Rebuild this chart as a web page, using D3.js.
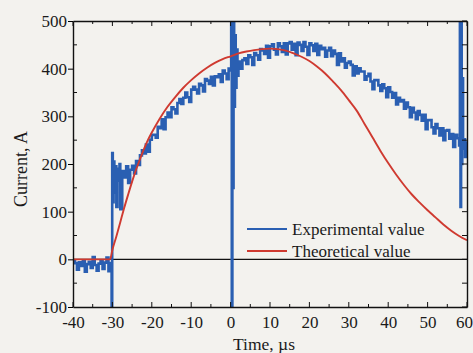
<!DOCTYPE html>
<html>
<head>
<meta charset="utf-8">
<script src="https://cdn.jsdelivr.net/npm/d3@7"></script>
<style>
  body { margin: 0; background: #f3f2ee; }
  svg { display: block; }
  text { font-family: "Liberation Serif", "Times New Roman", serif; fill: #1a1a1a; }
</style>
</head>
<body>
<div id="chart"></div>
<script>
// theoretical current curve
const theoryTime = [-40, -30.6, -30, -29, -28, -27, -26, -25, -24, -23, -22, -21, -20, -18, -16, -14, -12, -10, -8, -6, -4, -2,
  0, 2, 4, 6, 8, 10, 12, 14, 16, 18, 20, 22, 24, 26, 28, 30, 32, 34, 36, 38, 40, 42, 44, 46, 48, 50, 52, 54, 56, 58, 60];
const theoryCurrent = [0, 0, 20, 48, 78, 108, 136, 163, 188, 210, 231, 250, 266, 295, 320, 341, 360, 376, 390, 402, 412, 420,
  426, 432, 436, 439, 441, 442, 441, 438, 432, 425, 416, 404, 390, 373, 355, 334, 312, 284, 256, 228, 202, 178, 156, 136, 119, 103, 88, 73, 60, 49, 40];

// measured current (noisy scope trace)
const expTime = [
  -40, -39.5, -39, -38.5, -38, -37.5, -37, -36.5, -36, -35.5, -35, -34.5, -34, -33.5, -33, -32.5, -32, -31.5, -31, -30.5,
  -30.2, -30.05, -29.9, -29.7, -29.5, -29.2, -29, -28.7, -28.5, -28.2, -28, -27.5, -27, -26.5, -26, -25.5, -25, -24.5, -24, -23.5,
  -23, -22.5, -22, -21.5, -21, -20.5, -20, -19.5, -19, -18.5, -18, -17.5, -17, -16.5, -16, -15.5, -15, -14.5, -14, -13.5,
  -13, -12.5, -12, -11.5, -11, -10.5, -10, -9.5, -9, -8.5, -8, -7.5, -7, -6.5, -6, -5.5, -5, -4.5, -4, -3.5,
  -3, -2.5, -2, -1.5, -1, -0.5, 0, 0.15, 0.3, 0.45, 0.6, 0.75, 0.9, 1.1, 1.3, 1.5, 1.75, 2, 2.5, 3,
  3.5, 4, 4.5, 5, 5.5, 6, 6.5, 7, 7.5, 8, 8.5, 9, 9.5, 10, 10.5, 11, 11.5, 12, 12.5, 13,
  13.5, 14, 14.5, 15, 15.5, 16, 16.5, 17, 17.5, 18, 18.5, 19, 19.5, 20, 20.5, 21, 21.5, 22, 22.5, 23,
  23.5, 24, 24.5, 25, 25.5, 26, 26.5, 27, 27.5, 28, 28.5, 29, 29.5, 30, 30.5, 31, 31.5, 32, 32.5, 33,
  33.5, 34, 34.5, 35, 35.5, 36, 36.5, 37, 37.5, 38, 38.5, 39, 39.5, 40, 40.5, 41, 41.5, 42, 42.5, 43,
  43.5, 44, 44.5, 45, 45.5, 46, 46.5, 47, 47.5, 48, 48.5, 49, 49.5, 50, 50.5, 51, 51.5, 52, 52.5, 53,
  53.5, 54, 54.5, 55, 55.5, 56, 56.5, 57, 57.5, 58, 58.2, 58.35, 58.5, 58.65, 58.8, 59, 59.3, 59.5, 59.7, 60
];
const expCurrent = [
  -4, -8, -22, -6, -14, -2, -26, -10, -5, -18, 5, -12, -24, -9, -3, -20, -7, 4, -25, -8,
  -100, 223, 120, 205, 140, 195, 110, 190, 165, 200, 105, 185, 172, 195, 160, 188, 196, 180, 206, 198,
  218, 229, 222, 241, 226, 251, 261, 261, 255, 278, 275, 294, 273, 298, 308, 298, 319, 315, 306, 328,
  336, 326, 339, 350, 340, 330, 356, 362, 356, 348, 368, 365, 352, 378, 375, 368, 383, 365, 384, 382,
  388, 372, 396, 390, 378, 400, 396, 520, -110, 510, 150, 495, 320, 470, 360, 440, 385, 415, 400, 418,
  422, 410, 428, 424, 408, 433, 428, 419, 441, 438, 431, 448, 423, 447, 451, 440, 430, 453, 447, 435,
  453, 430, 453, 456, 440, 452, 428, 455, 450, 437, 456, 446, 429, 453, 449, 437, 452, 429, 448, 441,
  444, 425, 438, 444, 426, 438, 431, 408, 432, 415, 422, 402, 412, 415, 408, 386, 405, 390, 401, 394,
  394, 377, 384, 389, 373, 357, 376, 376, 365, 353, 367, 359, 340, 361, 351, 339, 349, 325, 339, 331,
  334, 316, 329, 319, 298, 318, 308, 294, 311, 303, 291, 303, 273, 292, 292, 277, 264, 284, 275, 260,
  275, 250, 270, 271, 253, 263, 236, 261, 254, 239, 510, 110, 505, 200, 380, 232, 252, 215, 245, 235
];

const xTickValues = [-40, -30, -20, -10, 0, 10, 20, 30, 40, 50, 60];
const yTickValues = [-100, 0, 100, 200, 300, 400, 500];
const legendNames = ['Experimental value', 'Theoretical value'];

const width = 473, height = 353;
const margin = { top: 21, right: 6, bottom: 46, left: 73 };
const blue = '#2a5fb2', red = '#cf3a30';

const svg = d3.select('#chart')
  .append('svg')
  .attr('width', width)
  .attr('height', height);

const x = d3.scaleLinear().domain([-40, 60]).range([margin.left, width - margin.right]);
const y = d3.scaleLinear().domain([-100, 500]).range([height - margin.bottom, margin.top]);

svg.append('clipPath').attr('id', 'plot-clip')
  .append('rect')
  .attr('x', x(-40)).attr('y', y(500))
  .attr('width', x(60) - x(-40)).attr('height', y(-100) - y(500));

// zero line
svg.append('line')
  .attr('x1', x(-40)).attr('x2', x(60))
  .attr('y1', y(0)).attr('y2', y(0))
  .attr('stroke', '#111').attr('stroke-width', 1.2);

const expData = expTime.map((t, i) => [t, expCurrent[i]]);
const theoryData = theoryTime.map((t, i) => [t, theoryCurrent[i]]);

const plot = svg.append('g').attr('clip-path', 'url(#plot-clip)');
// scope samples are held, so draw them as steps
plot.append('path')
  .datum(expData)
  .attr('d', d3.line().curve(d3.curveStepAfter).x(d => x(d[0])).y(d => y(d[1])))
  .attr('fill', 'none')
  .attr('stroke', blue)
  .attr('stroke-width', 2.6);

plot.append('path')
  .datum(theoryData)
  .attr('d', d3.line().curve(d3.curveMonotoneX).x(d => x(d[0])).y(d => y(d[1])))
  .attr('fill', 'none')
  .attr('stroke', red)
  .attr('stroke-width', 1.9);

// axes
const minorX = d3.range(-40, 61, 5);
const minorY = d3.range(-100, 501, 50);
const fmt = d => String(d);

const bottomAxis = svg.append('g').attr('transform', `translate(0,${y(-100)})`)
  .call(d3.axisBottom(x).tickValues(xTickValues).tickFormat(fmt).tickSize(0).tickPadding(9));
bottomAxis.selectAll('.tick text').style('font-size', '17px');
bottomAxis.selectAll('.tick text').filter(d => d === 60).attr('dx', -3);
bottomAxis.select('.domain').attr('stroke-width', 1.4);
bottomAxis.selectAll('.minor').data(minorX).enter().append('line')
  .attr('x1', d => x(d)).attr('x2', d => x(d))
  .attr('y1', 0).attr('y2', d => d % 10 === 0 ? -5 : -3)
  .attr('stroke', '#111');

const topAxis = svg.append('g').attr('transform', `translate(0,${y(500)})`)
  .call(d3.axisTop(x).tickValues([]).tickSizeOuter(0));
topAxis.select('.domain').attr('stroke-width', 1.4);
topAxis.selectAll('.minor').data(minorX).enter().append('line')
  .attr('x1', d => x(d)).attr('x2', d => x(d))
  .attr('y1', 0).attr('y2', d => d % 10 === 0 ? 5 : 3)
  .attr('stroke', '#111');

const leftAxis = svg.append('g').attr('transform', `translate(${x(-40)},0)`)
  .call(d3.axisLeft(y).tickValues(yTickValues).tickFormat(fmt).tickSize(5).tickSizeOuter(0).tickPadding(1));
leftAxis.selectAll('.tick text').style('font-size', '17px');
leftAxis.select('.domain').attr('stroke-width', 1.4);
leftAxis.selectAll('.minor').data(minorY.filter(d => d % 100 !== 0)).enter().append('line')
  .attr('x1', 0).attr('x2', 4)
  .attr('y1', d => y(d)).attr('y2', d => y(d))
  .attr('stroke', '#111');

const rightAxis = svg.append('g').attr('transform', `translate(${x(60)},0)`)
  .call(d3.axisRight(y).tickValues([]).tickSizeOuter(0));
rightAxis.select('.domain').attr('stroke-width', 1.4);
rightAxis.selectAll('.minor').data(minorY).enter().append('line')
  .attr('x1', 0).attr('x2', -5)
  .attr('y1', d => y(d)).attr('y2', d => y(d))
  .attr('stroke', '#111');

svg.selectAll('.domain').attr('stroke', '#111');

// axis titles
svg.append('text')
  .attr('x', 264).attr('y', 350)
  .attr('text-anchor', 'middle')
  .style('font-size', '17.5px')
  .text('Time, µs');

svg.append('text')
  .attr('transform', 'translate(27,169) rotate(-90)')
  .attr('text-anchor', 'middle')
  .style('font-size', '18px')
  .text('Current, A');

// legend
const legend = svg.append('g');
legendNames.forEach((name, i) => {
  const ly = 229 + i * 22;
  legend.append('line')
    .attr('x1', 247).attr('x2', 287)
    .attr('y1', ly).attr('y2', ly)
    .attr('stroke', i === 0 ? blue : red)
    .attr('stroke-width', 2);
  legend.append('text')
    .attr('x', 292).attr('y', ly + 6)
    .style('font-size', '17px')
    .text(name);
});
</script>
</body>
</html>
